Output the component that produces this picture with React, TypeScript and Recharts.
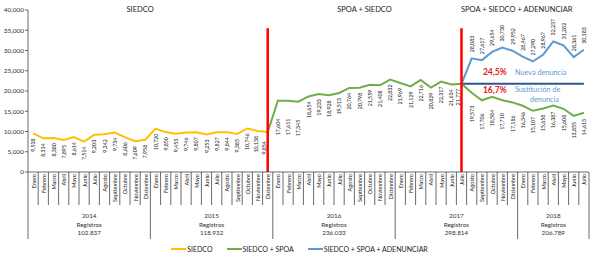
import {
  LineChart,
  Line,
  XAxis,
  YAxis,
  Legend,
  LabelList,
  ReferenceLine,
  ReferenceDot,
} from "recharts";

const MONTHS = [
  "Enero", "Febrero", "Marzo", "Abril", "Mayo", "Junio",
  "Julio", "Agosto", "Septiembre", "Octubre", "Noviembre", "Diciembre",
];
const YEARS = ["2014", "2015", "2016", "2017", "2018"];
const YEAR_TOTALS = ["102.837", "118.932", "236.033", "298.814", "206.789"];

const siedco2014 = [9538, 8314, 8380, 7895, 8614, 7514, 9203, 9342, 9734, 8606, 7609, 7958];
const siedco2015 = [10720, 9850, 9453, 9746, 9807, 9253, 9827, 9844, 9385, 10746, 10138, 9854];
const spoa2016 = [17604, 17611, 17345, 18654, 19233, 18928, 19513, 20764, 20798, 21559, 21408, 22832];
const spoa2017 = [21969, 21129, 22716, 20829, 22317, 21634, 21777, 19573, 17706, 18584, 17710, 17186];
const spoa2018 = [16346, 15107, 15658, 16387, 15608, 13855, 14613];
// from Julio 2017 (split point) to Julio 2018
const adenunciar = [21777, 28083, 27617, 29654, 30730, 29952, 28467, 27290, 28967, 32237, 31282, 28361, 30183];

const Y_TICKS = [0, 5000, 10000, 15000, 20000, 25000, 30000, 35000, 40000];
const REF_VALUE = 21777;

const FONT = "Lato, 'Open Sans', sans-serif";
const C_YELLOW = "#FFC000";
const C_GREEN = "#70AD47";
const C_BLUE = "#5B9BD5";
const C_DARKBLUE = "#2F5597";
const C_RED = "#FF0000";

// build category table
const cats: string[] = [];
YEARS.forEach((y) => MONTHS.forEach((m) => cats.push(`${m.slice(0, 3)}-${y.slice(2)}`)));
const N = 12 * 4 + spoa2018.length;
const CATS = cats.slice(0, N);

const siedco = [...siedco2014, ...siedco2015];
const spoa = [...spoa2016, ...spoa2017, ...spoa2018];
const splitSpoa = siedco.length - 1; // Diciembre 2015
const splitAden = N - adenunciar.length; // Julio 2017

const data = CATS.map((cat, i) => ({
  cat,
  siedco: i < siedco.length ? siedco[i] : null,
  spoa: i === splitSpoa ? siedco[i] : i > splitSpoa ? spoa[i - splitSpoa - 1] : null,
  aden: i >= splitAden ? adenunciar[i - splitAden] : null,
}));

const fmt = (v: number) => v.toLocaleString("en-US");

function MonthTick(props: any) {
  const { x, y, payload } = props;
  const i: number = payload?.index ?? props.index;
  const half: number = payload?.offset || 5.1;
  const left = x - half;
  const yearStart = i % 12 === 0;
  const last = i === N - 1;

  const yr = Math.floor(i / 12);
  const s = yr * 12;
  const e = Math.min(s + 11, N - 1);
  const c = (s + e) / 2;
  const showYear = i === Math.floor(c);
  const yx = x + (c - i) * 2 * half;

  return (
    <g>
      <line x1={left} y1={y} x2={left} y2={y + (yearStart ? 67 : 33)} stroke="#444" strokeWidth={0.8} />
      {last && <line x1={x + half} y1={y} x2={x + half} y2={y + 67} stroke="#444" strokeWidth={0.8} />}
      <text
        transform={`translate(${x},${y + 2}) rotate(-90)`}
        textAnchor="end"
        dominantBaseline="central"
        fontSize={5.6}
        fill="#222"
        fontFamily={FONT}
      >
        {MONTHS[i % 12]}
      </text>
      {showYear && (
        <text x={yx} y={y + 46} textAnchor="middle" fontSize={6.3} fill="#333" fontFamily={FONT}>
          <tspan x={yx} dy={0}>{YEARS[yr]}</tspan>
          <tspan x={yx} dy={9}>Registros</tspan>
          <tspan x={yx} dy={8}>{YEAR_TOTALS[yr]}</tspan>
        </text>
      )}
    </g>
  );
}

function valueLabel(
  place: "below" | "above",
  gap: (i: number) => number,
  skip: number,
  shift: (i: number) => number = () => 0
) {
  return (p: any) => {
    const { x, y, value, index } = p;
    if (value == null || index === skip || y == null || isNaN(y)) return null;
    const g = gap(index);
    return (
      <text
        key={`l${index}`}
        transform={`translate(${x + shift(index)},${place === "below" ? y + g : y - g}) rotate(-90)`}
        textAnchor={place === "below" ? "end" : "start"}
        dominantBaseline="central"
        fontSize={5.3}
        fill="#222"
        fontFamily={FONT}
      >
        {fmt(value)}
      </text>
    );
  };
}

const siedcoGap = (i: number) => (i === splitSpoa ? 9 : 5);
const spoaGap = (i: number) => {
  if (i <= splitSpoa + 3) return 18;
  if (i <= splitAden) return 5;
  if (i < 48) return 13;
  return 6;
};

// labels sitting on a split line are nudged left of it
const siedcoShift = (i: number) => (i === splitSpoa ? -4 : i === splitSpoa - 1 ? -2 : 0);
const spoaShift = (i: number) => (i === splitAden ? -4 : 0);

function textAt(lines: { dx: number; dy: number; text: string; color: string; size: number; bold?: boolean; anchor?: string }[]) {
  return (p: any) => {
    const vb = p.viewBox || {};
    const cx = (vb.x ?? 0) + (vb.width ?? 0) / 2;
    const cy = (vb.y ?? 0) + (vb.height ?? 0) / 2;
    return (
      <g>
        {lines.map((l, k) => (
          <text
            key={k}
            x={cx + l.dx}
            y={cy + l.dy}
            textAnchor={(l.anchor as any) || "start"}
            fontSize={l.size}
            fontWeight={l.bold ? 700 : 400}
            fill={l.color}
            fontFamily={FONT}
          >
            {l.text}
          </text>
        ))}
      </g>
    );
  };
}

function LegendContent() {
  const items = [
    { name: "SIEDCO", color: C_YELLOW },
    { name: "SIEDCO + SPOA", color: C_GREEN },
    { name: "SIEDCO + SPOA + ADENUNCIAR", color: C_BLUE },
  ];
  return (
    <div
      style={{
        height: 14,
        display: "flex",
        justifyContent: "center",
        alignItems: "center",
        gap: 14,
        paddingLeft: 10,
        fontFamily: FONT,
        fontSize: 7,
        color: "#222",
      }}
    >
      {items.map((it) => (
        <div key={it.name} style={{ display: "flex", alignItems: "center", gap: 1 }}>
          <span style={{ width: 15, height: 2, background: it.color, display: "inline-block" }} />
          <span>{it.name}</span>
        </div>
      ))}
    </div>
  );
}

export default function App() {
  return (
    <div style={{ position: "absolute", left: 0, top: 0, width: 600, height: 259, background: "#fff" }}>
      <LineChart width={600} height={259} data={data} margin={{ top: 10, right: 11, left: 0, bottom: 3 }}>
        <XAxis
          dataKey="cat"
          scale="band"
          interval={0}
          tickLine={false}
          tickSize={0}
          tickMargin={0}
          height={70}
          axisLine={{ stroke: "#444", strokeWidth: 0.8 }}
          tick={<MonthTick />}
        />
        <YAxis
          width={28}
          domain={[0, 40000]}
          ticks={Y_TICKS}
          tickFormatter={fmt}
          tickSize={3}
          tickMargin={1}
          axisLine={{ stroke: "#444", strokeWidth: 0.8 }}
          tickLine={{ stroke: "#444", strokeWidth: 0.8 }}
          tick={{ fontSize: 6.5, fill: "#333", fontFamily: FONT }}
        />
        <Legend verticalAlign="bottom" content={<LegendContent />} />

        <ReferenceLine
          segment={[{ x: CATS[splitAden], y: REF_VALUE }, { x: CATS[N - 1], y: REF_VALUE }]}
          stroke={C_DARKBLUE}
          strokeWidth={2}
        />

        <Line dataKey="siedco" stroke={C_YELLOW} strokeWidth={2} dot={false} isAnimationActive={false}>
          <LabelList dataKey="siedco" content={valueLabel("below", siedcoGap, -1, siedcoShift)} />
        </Line>
        <Line dataKey="spoa" stroke={C_GREEN} strokeWidth={2} dot={false} isAnimationActive={false}>
          <LabelList dataKey="spoa" content={valueLabel("below", spoaGap, splitSpoa, spoaShift)} />
        </Line>
        <Line dataKey="aden" stroke={C_BLUE} strokeWidth={2} dot={false} isAnimationActive={false}>
          <LabelList dataKey="aden" content={valueLabel("above", () => 6, splitAden)} />
        </Line>

        <ReferenceLine
          segment={[{ x: CATS[splitSpoa], y: 0 }, { x: CATS[splitSpoa], y: 35500 }]}
          stroke={C_RED}
          strokeWidth={2.5}
        />
        <ReferenceLine
          segment={[{ x: CATS[splitAden], y: 0 }, { x: CATS[splitAden], y: 35500 }]}
          stroke={C_RED}
          strokeWidth={2.5}
        />

        <ReferenceDot x={CATS[10]} y={40000} r={0} stroke="none" fill="none"
          label={textAt([{ dx: 5, dy: 1.5, text: "SIEDCO", color: "#222", size: 7.5, anchor: "middle" }])} />
        <ReferenceDot x={CATS[32]} y={40000} r={0} stroke="none" fill="none"
          label={textAt([{ dx: 5, dy: 1.5, text: "SPOA + SIEDCO", color: "#222", size: 7.5, anchor: "middle" }])} />
        <ReferenceDot x={CATS[48]} y={40000} r={0} stroke="none" fill="none"
          label={textAt([{ dx: -6, dy: 1.5, text: "SPOA + SIEDCO + ADENUNCIAR", color: "#222", size: 7.5, anchor: "middle" }])} />

        <ReferenceDot x={CATS[splitAden + 2]} y={24000} r={0} stroke="none" fill="none"
          label={textAt([
            { dx: 1, dy: 0, text: "24,5%", color: "#E0201B", size: 8.5, bold: true },
            { dx: 33, dy: 0, text: "Nueva denuncia", color: C_BLUE, size: 7.3 },
          ])} />
        <ReferenceDot x={CATS[splitAden + 2]} y={19400} r={0} stroke="none" fill="none"
          label={textAt([
            { dx: 1, dy: 0, text: "16,7%", color: "#E0201B", size: 8.5, bold: true },
            { dx: 33, dy: -1, text: "Sustitución de", color: C_BLUE, size: 7.3 },
            { dx: 48, dy: 9, text: "denuncia", color: C_BLUE, size: 7.3 },
          ])} />
      </LineChart>
    </div>
  );
}
